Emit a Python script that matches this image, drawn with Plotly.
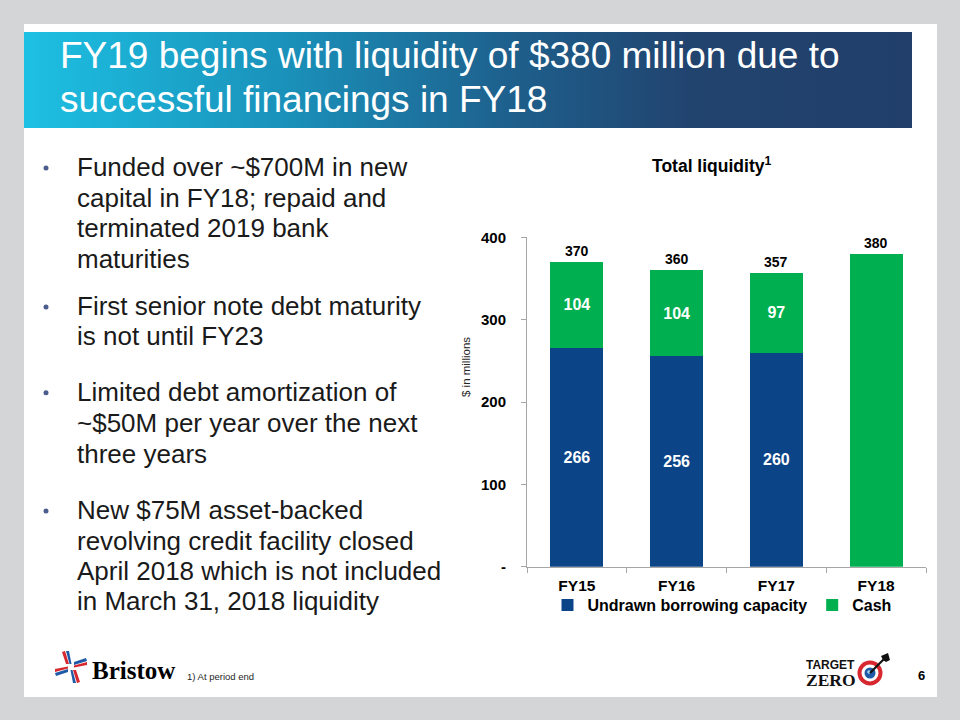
import base64

import plotly.graph_objects as go

# data
years = ["FY15", "FY16", "FY17", "FY18"]
undrawn = [266, 256, 260, 0]
cash = [104, 104, 97, 380]
totals = [370, 360, 357, 380]
undrawn_text = ["266", "256", "260", ""]
cash_text = ["104", "104", "97", ""]
y_ticks = [0, 100, 200, 300, 400]
y_tick_text = ["-", "100", "200", "300", "400"]

title_lines = [
    "FY19 begins with liquidity of $380 million due to",
    "successful financings in FY18",
]
bullets = [
    ["Funded over ~$700M in new", "capital in FY18; repaid and",
     "terminated 2019 bank", "maturities"],
    ["First senior note debt maturity", "is not until FY23"],
    ["Limited debt amortization of", "~$50M per year over the next",
     "three years"],
    ["New $75M asset-backed", "revolving credit facility closed",
     "April 2018 which is not included", "in March 31, 2018 liquidity"],
]
bullet_baselines = [
    [176, 206.7, 237.4, 268],
    [315, 345],
    [400.7, 431.7, 462.7],
    [519, 550, 580, 610],
]

W, H = 960, 720
SANS = "Liberation Sans, Arial, sans-serif"
SERIF = "Liberation Serif, Times New Roman, serif"
BLUE = "#0c4587"
GREEN = "#00b050"
AXIS = "#a6a6a6"


def px(x):
    return x / W


def py(y):
    return 1 - y / H


def svg_uri(svg):
    return "data:image/svg+xml;base64," + base64.b64encode(svg.encode()).decode()


title_svg = """<svg xmlns='http://www.w3.org/2000/svg' width='888' height='96' viewBox='0 0 888 96'>
<defs><linearGradient id='g' x1='0' y1='0' x2='1' y2='0'>
<stop offset='0' stop-color='#1dc0e3'/><stop offset='0.3' stop-color='#1a90b9'/>
<stop offset='0.55' stop-color='#1e5f8c'/><stop offset='0.75' stop-color='#21446f'/>
<stop offset='1' stop-color='#213f6a'/></linearGradient></defs>
<rect width='888' height='96' fill='url(#g)'/></svg>"""

blade_a = ("<polygon points='7,1 10,0 14,13 11,13' fill='#d7282f'/>"
           "<polygon points='11,0 14,0 16.5,13 14.5,13' fill='#1f5aa6'/>")
blade_b = ("<polygon points='7,1 10,0 14,13 11,13' fill='#1f5aa6'/>"
           "<polygon points='11,0 14,0 16.5,13 14.5,13' fill='#d7282f'/>")
bristow_svg = (
    "<svg xmlns='http://www.w3.org/2000/svg' width='32' height='32' viewBox='0 0 32 32'>"
    f"<g>{blade_a}</g>"
    f"<g transform='rotate(90 16 16)'>{blade_b}</g>"
    f"<g transform='rotate(180 16 16)'>{blade_a}</g>"
    f"<g transform='rotate(270 16 16)'>{blade_b}</g>"
    "</svg>"
)

target_svg = """<svg xmlns='http://www.w3.org/2000/svg' width='34' height='34' viewBox='0 0 34 34'>
<circle cx='13' cy='21' r='12.5' fill='#d7282f'/><circle cx='13' cy='21' r='8.5' fill='#ffffff'/>
<circle cx='13' cy='21' r='5.5' fill='#1f5aa6'/><circle cx='12' cy='20' r='1.8' fill='#9fd3f0'/>
<line x1='13' y1='21' x2='28' y2='6' stroke='#111' stroke-width='2.2'/>
<polygon points='24,4 31,1 33,8 29,10 26,8' fill='#111'/></svg>"""

fig = go.Figure()
fig.add_trace(
    go.Bar(
        name="Undrawn borrowing capacity",
        x=years,
        y=undrawn,
        text=undrawn_text,
        marker_color=BLUE,
        width=0.53,
    )
)
fig.add_trace(
    go.Bar(
        name="Cash",
        x=years,
        y=cash,
        text=cash_text,
        marker_color=GREEN,
        width=0.53,
    )
)
fig.update_traces(
    textposition="inside",
    insidetextanchor="middle",
    textangle=0,
    textfont=dict(family=SANS, size=16, color="white", weight="bold"),
    marker_line_width=0,
    hoverinfo="skip",
)

annotations = []
# totals above bars
for yr, tot in zip(years, totals):
    annotations.append(
        dict(
            x=yr, y=tot, xref="x", yref="y", text=str(tot), showarrow=False,
            xanchor="center", yanchor="bottom", yshift=1,
            font=dict(family=SANS, size=14, color="black", weight="bold"),
        )
    )


def note(x, y, text, font, xanchor="left", **kw):
    return dict(
        x=px(x), y=py(y), xref="paper", yref="paper", text=text,
        showarrow=False, xanchor=xanchor, yanchor="middle", font=font, **kw
    )


# slide title
for line, yc in zip(title_lines, [55.5, 99.5]):
    annotations.append(note(58, yc, line, dict(family=SANS, size=37, color="white")))

# bullet text
shapes = []
for para, bases in zip(bullets, bullet_baselines):
    for line, b in zip(para, bases):
        annotations.append(
            note(75, b - 9, line, dict(family=SANS, size=26, color="#1a1a1a"))
        )
    cy = bases[0] - 8
    shapes.append(
        dict(
            type="circle", xref="paper", yref="paper",
            x0=px(43.5), x1=px(48.5), y0=py(cy + 2.5), y1=py(cy - 2.5),
            fillcolor="#4a5d8c", line=dict(width=0),
        )
    )

annotations += [
    note(711, 165, "Total liquidity<sup>1</sup>",
         dict(family=SANS, size=17.5, color="black", weight="bold"), xanchor="center"),
    note(466, 367, "$ in millions", dict(family=SANS, size=11.5, color="#262626"),
         xanchor="center", textangle=-90),
    note(90, 670, "Bristow", dict(family=SERIF, size=25, color="black", weight="bold")),
    note(185, 676, "1) At period end", dict(family=SANS, size=9.5, color="#262626")),
    note(805, 664.5, "TARGET", dict(family=SANS, size=12, color="#111", weight="bold"),
         borderpad=0),
    note(805, 680, "ZERO", dict(family=SERIF, size=17.5, color="#111", weight="bold"),
         borderpad=0),
    note(921, 675, "6", dict(family=SANS, size=13, color="black", weight="bold"),
         xanchor="center"),
]

# white slide
shapes.insert(
    0,
    dict(
        type="rect", xref="paper", yref="paper", layer="below",
        x0=px(24), x1=px(937), y0=py(697), y1=py(24),
        fillcolor="white", line=dict(width=0),
    ),
)

images = [
    dict(source=svg_uri(title_svg), xref="paper", yref="paper",
         x=px(24), y=py(32), sizex=888 / W, sizey=96 / H,
         xanchor="left", yanchor="top", sizing="stretch", layer="above"),
    dict(source=svg_uri(bristow_svg), xref="paper", yref="paper",
         x=px(55), y=py(651), sizex=32 / W, sizey=32 / H,
         xanchor="left", yanchor="top", sizing="stretch", layer="above"),
    dict(source=svg_uri(target_svg), xref="paper", yref="paper",
         x=px(857), y=py(652), sizex=34 / W, sizey=34 / H,
         xanchor="left", yanchor="top", sizing="stretch", layer="above"),
]

fig.update_layout(
    width=W,
    height=H,
    autosize=False,
    margin=dict(l=0, r=0, t=0, b=0, pad=0, autoexpand=False),
    paper_bgcolor="#d4d5d6",
    plot_bgcolor="white",
    barmode="stack",
    showlegend=True,
    legend=dict(
        orientation="h", x=px(722), y=py(605), xanchor="center", yanchor="middle",
        font=dict(family=SANS, size=16, color="black", weight="bold"),
        bgcolor="rgba(0,0,0,0)", itemwidth=30, itemclick=False,
        traceorder="normal",
    ),
    xaxis=dict(
        domain=[px(527), px(926)],
        range=[-0.5, 3.5],
        showline=True, linecolor=AXIS, linewidth=1,
        ticks="outside", tickson="boundaries", ticklen=5, tickcolor=AXIS,
        ticklabelstandoff=5,
        tickfont=dict(family=SANS, size=15.5, color="black", weight="bold"),
        showgrid=False, fixedrange=True, automargin=False,
    ),
    yaxis=dict(
        domain=[1 - 566.7 / H, 1 - 237.3 / H],
        range=[0, 400],
        tickvals=y_ticks, ticktext=y_tick_text,
        showline=True, linecolor=AXIS, linewidth=1,
        ticks="outside", ticklen=5, tickcolor=AXIS, ticklabelstandoff=12,
        tickfont=dict(family=SANS, size=15, color="black", weight="bold"),
        showgrid=False, zeroline=False, fixedrange=True, automargin=False,
    ),
    annotations=annotations,
    shapes=shapes,
    images=images,
)

fig.write_html(
    "out.html",
    config={"displayModeBar": False},
    post_script="document.body.style.margin = '0';",
)
